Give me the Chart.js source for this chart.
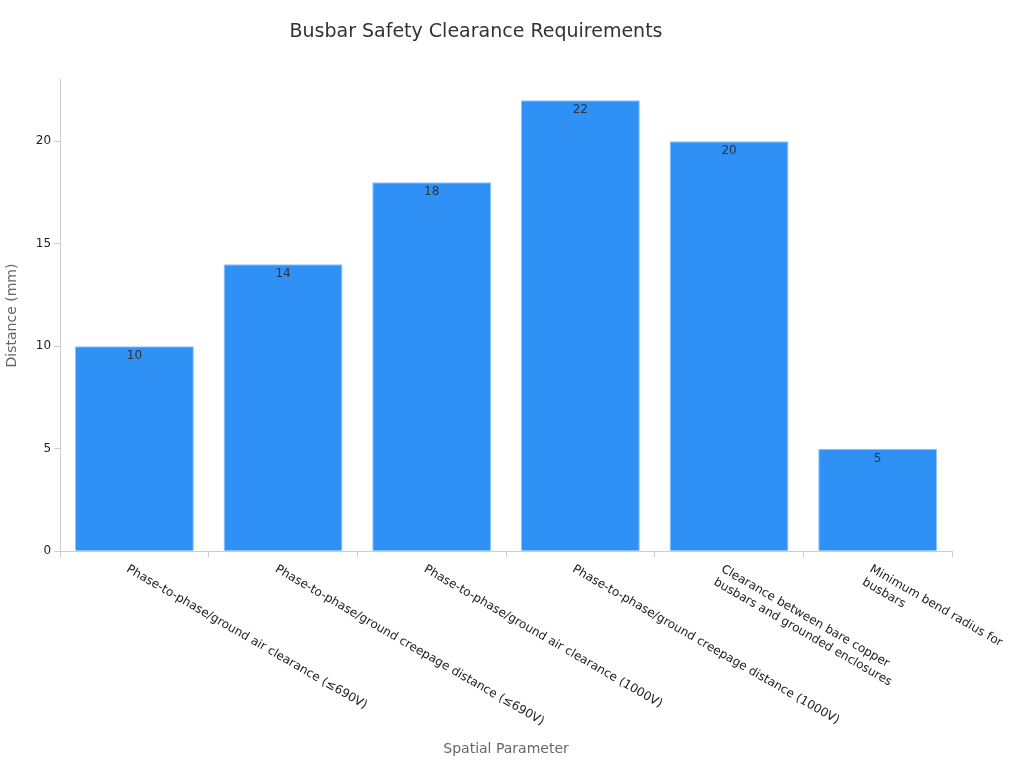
<!DOCTYPE html>
<html lang="en">
<head>
    <meta charset="UTF-8">
    <title>Busbar Safety Clearance Requirements</title>
    <script src="https://cdn.jsdelivr.net/npm/chart.js@4/dist/chart.umd.min.js"></script>
    <style>
        body { margin: 0; background: #fff; }
    </style>
</head>
<body>
    <canvas id="myChart" width="1024" height="768" style="width:1024px;height:768px"></canvas>
<script>
    const labels = [
        ['Phase-to-phase/ground air clearance (≤690V)'],
        ['Phase-to-phase/ground creepage distance (≤690V)'],
        ['Phase-to-phase/ground air clearance (1000V)'],
        ['Phase-to-phase/ground creepage distance (1000V)'],
        ['Clearance between bare copper', 'busbars and grounded enclosures'],
        ['Minimum bend radius for', 'busbars']
    ];
    const distances = [10, 14, 18, 22, 20, 5];

    const font = 'DejaVu Sans';

    // draws values inside bars and the slanted category labels
    const textPlugin = {
        id: 'texts',
        afterDatasetsDraw(chart) {
            const ctx = chart.ctx;
            const meta = chart.getDatasetMeta(0);
            const xScale = chart.scales.x;
            ctx.save();
            ctx.font = '12px "DejaVu Sans"';
            ctx.fillStyle = '#333';
            ctx.textAlign = 'center';
            ctx.textBaseline = 'top';
            meta.data.forEach((bar, i) => {
                ctx.fillText(distances[i], bar.x, bar.y + 4);
            });
            ctx.fillStyle = '#222';
            ctx.textAlign = 'left';
            labels.forEach((lines, i) => {
                const x = xScale.getPixelForValue(i);
                ctx.save();
                ctx.translate(x - 4, xScale.top + 12);
                ctx.rotate(30 * Math.PI / 180);
                lines.forEach((line, j) => {
                    ctx.fillText(line, 0, j * 15);
                });
                ctx.restore();
            });
            ctx.restore();
        }
    };

    var ctx = document.getElementById('myChart').getContext('2d');
    var chart = new Chart(ctx, {
        type: 'bar',
        data: {
            labels: labels.map(l => l.join(' ')),
            datasets: [{
                data: distances,
                backgroundColor: '#2f91f6',
                borderColor: '#8cc3fa',
                borderWidth: 1,
                barPercentage: 0.8,
                categoryPercentage: 1.0
            }]
        },
        options: {
            responsive: false,
            animation: false,
            layout: { padding: { left: 0, right: 72, top: 10, bottom: 6 } },
            plugins: {
                legend: { display: false },
                tooltip: { enabled: false },
                title: {
                    display: true,
                    text: 'Busbar Safety Clearance Requirements',
                    color: '#333',
                    font: { family: font, size: 19, weight: 'normal' },
                    padding: { top: 11, bottom: 36 }
                }
            },
            scales: {
                x: {
                    grid: { drawOnChartArea: false, tickLength: 6, color: '#ccc' },
                    border: { color: '#ccc' },
                    ticks: { display: false },
                    title: {
                        display: true,
                        text: 'Spatial Parameter',
                        color: '#666',
                        font: { family: font, size: 14 },
                        padding: { top: 184 }
                    }
                },
                y: {
                    min: 0,
                    max: 23,
                    grid: { drawOnChartArea: false, tickLength: 6, color: '#ccc' },
                    border: { color: '#ccc' },
                    ticks: {
                        stepSize: 5,
                        color: '#222',
                        font: { family: font, size: 12 },
                        callback: v => (v % 5 === 0 ? v : null)
                    },
                    title: {
                        display: true,
                        text: 'Distance (mm)',
                        color: '#666',
                        font: { family: font, size: 14 },
                        padding: { bottom: 12 }
                    }
                }
            }
        },
        plugins: [textPlugin]
    });
</script>
</body>
</html>
